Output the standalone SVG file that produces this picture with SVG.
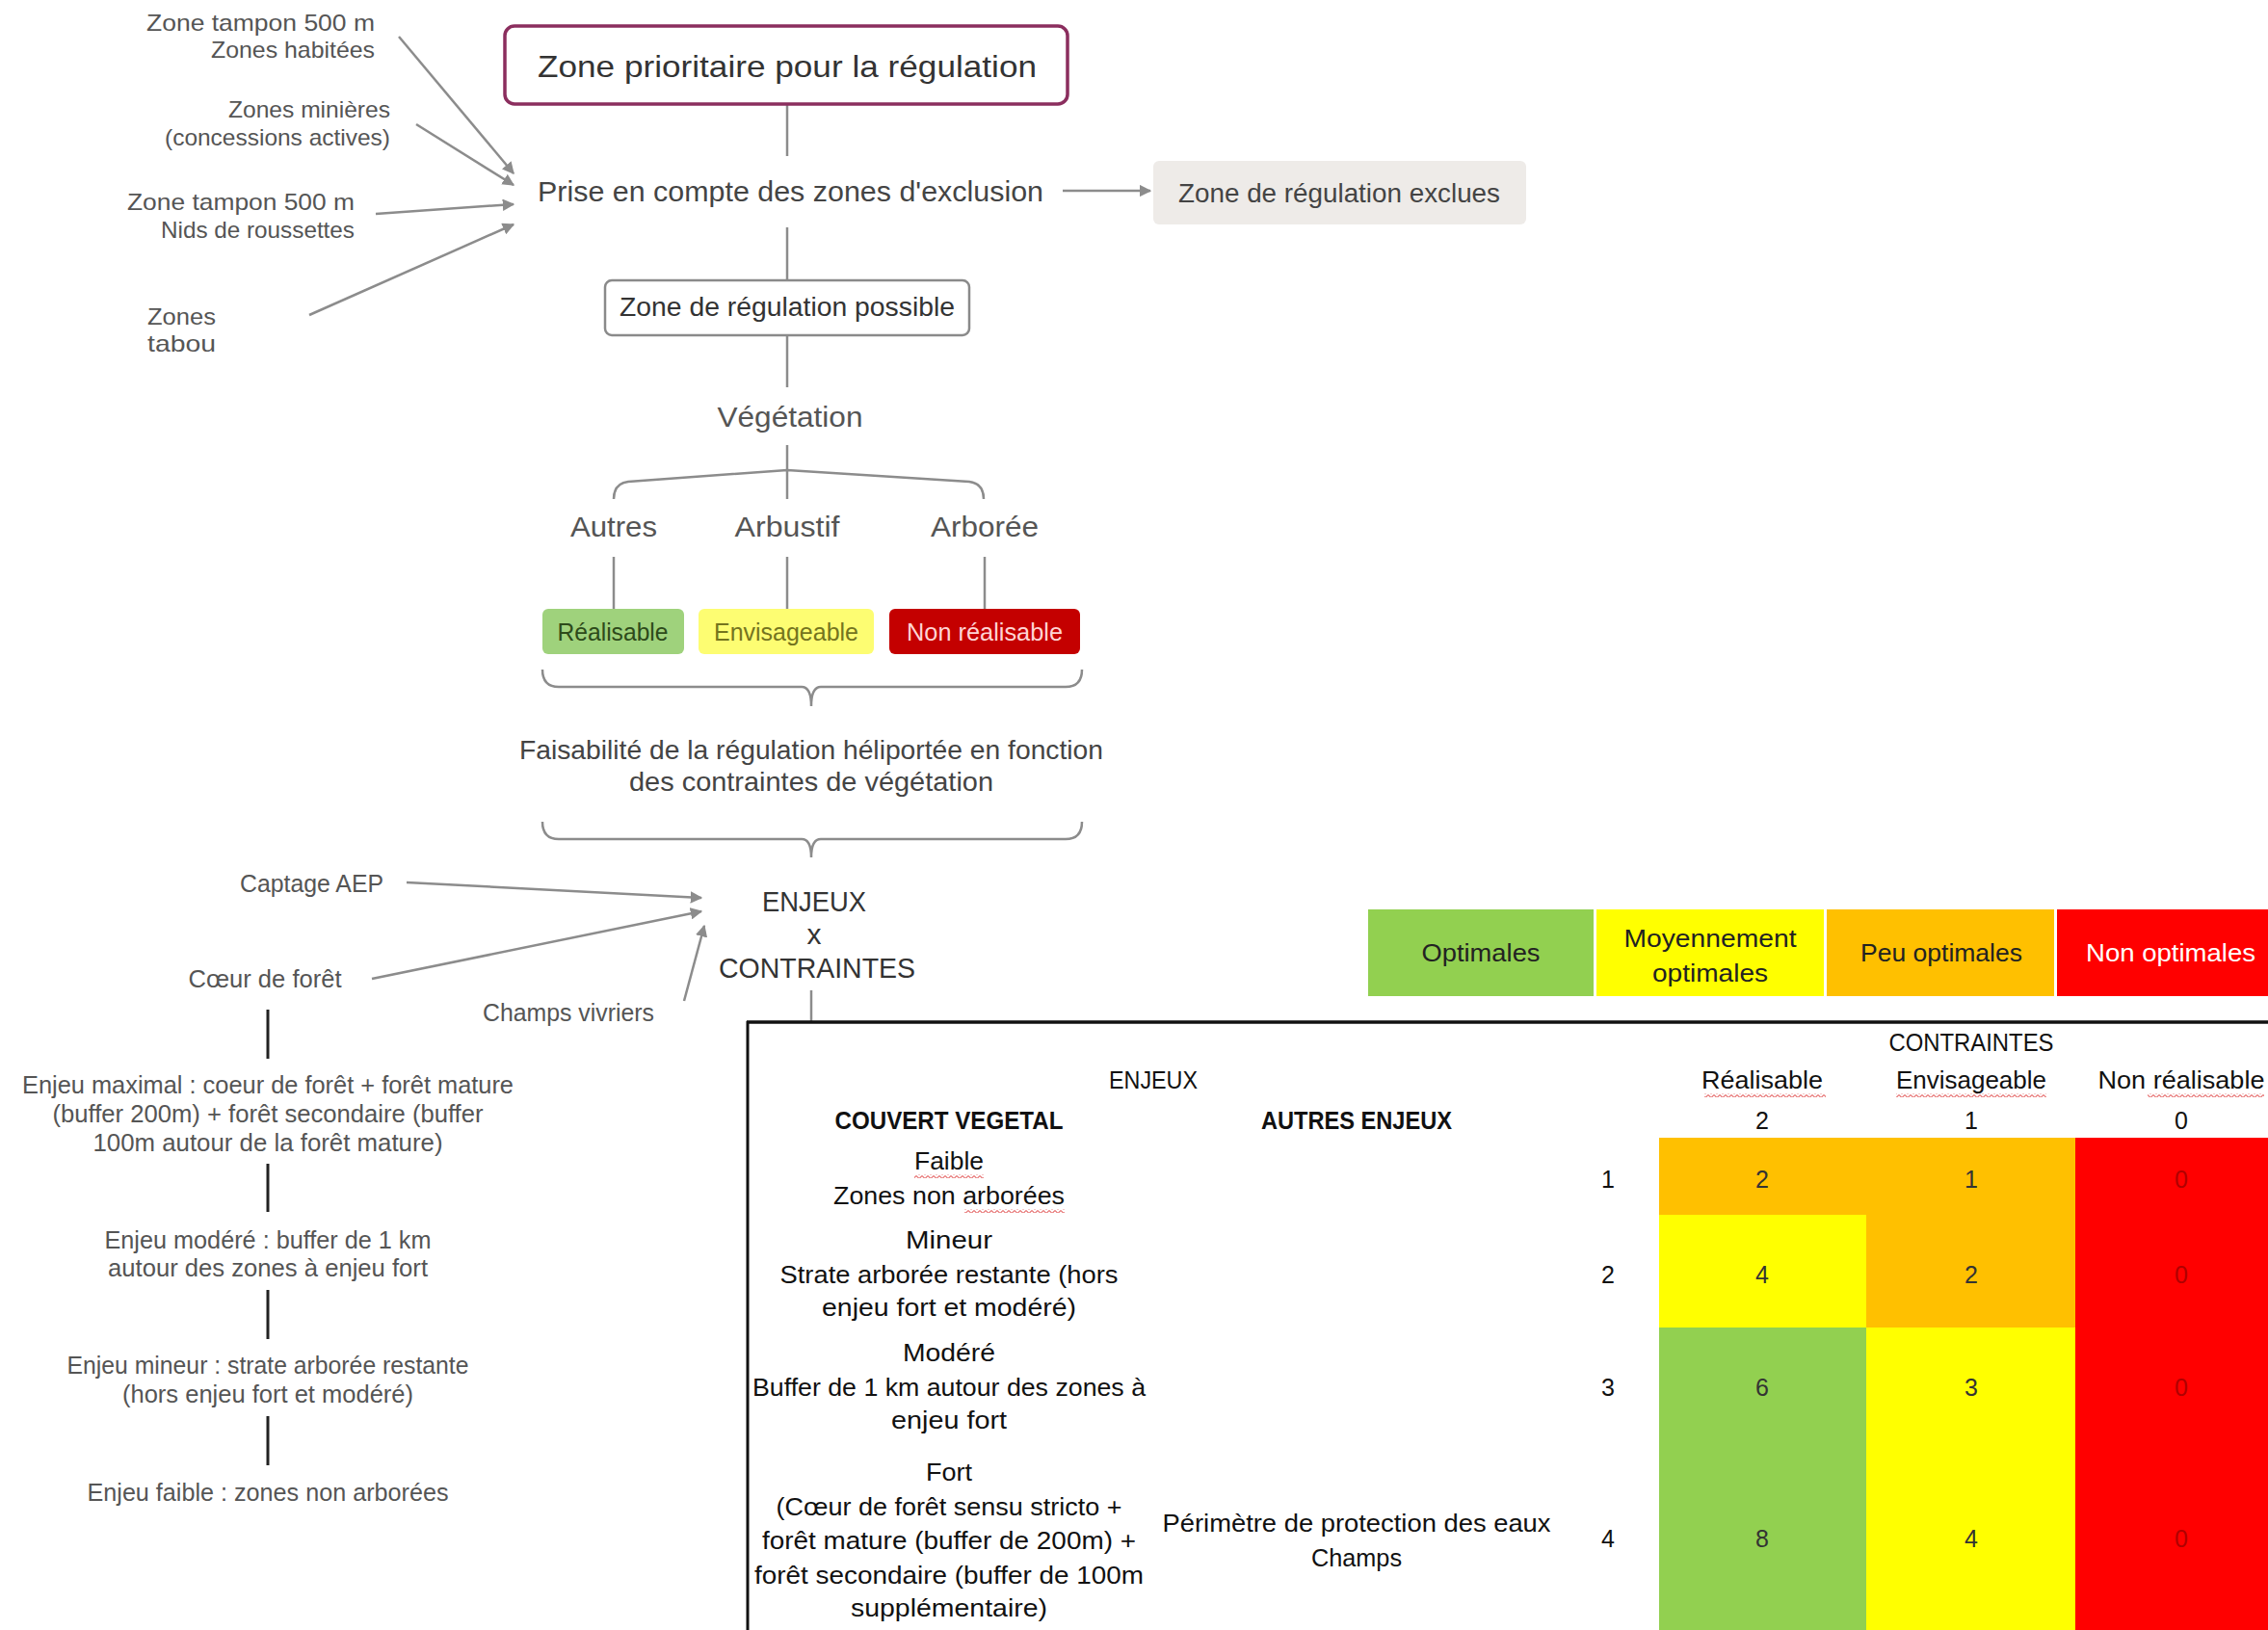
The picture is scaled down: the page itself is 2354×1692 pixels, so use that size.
<svg xmlns="http://www.w3.org/2000/svg" width="2354" height="1692" viewBox="0 0 2354 1692">
<style>
.fc{font-family:"Liberation Sans",Arial,sans-serif;fill:#555}
.s24{font-size:24px}.s25{font-size:25px}.s26{font-size:26px}.s28{font-size:28px}.s30{font-size:30px}.s32{font-size:32px}
.tb{font-family:"Liberation Sans",Arial,sans-serif;font-size:25px;fill:#111}
.b{font-weight:bold}
.mid{text-anchor:middle}.end{text-anchor:end}
.con{stroke:#8c8c8c;stroke-width:2.5;fill:none}
.chain{stroke:#222;stroke-width:3}
</style>
<defs>
<marker id="ar" viewBox="0 0 10 10" refX="9" refY="5" markerWidth="5" markerHeight="5" orient="auto" markerUnits="strokeWidth">
<path d="M0,0 L10,5 L0,10 z" fill="#8c8c8c"/>
</marker>
<pattern id="wavy" width="6" height="4" patternUnits="userSpaceOnUse">
<path d="M0,3.5 L3,0.5 L6,3.5" stroke="#d82020" stroke-width="1" fill="none"/>
</pattern>
</defs>
<rect width="2354" height="1692" fill="#fff"/>

<g id="connectors">
<line class="con" x1="414" y1="38" x2="533" y2="180" marker-end="url(#ar)"/>
<line class="con" x1="432" y1="129" x2="533" y2="192" marker-end="url(#ar)"/>
<line class="con" x1="390" y1="222" x2="533" y2="212" marker-end="url(#ar)"/>
<line class="con" x1="321" y1="327" x2="533" y2="233" marker-end="url(#ar)"/>
<line class="con" x1="817" y1="108" x2="817" y2="162"/>
<line class="con" x1="817" y1="236" x2="817" y2="291"/>
<line class="con" x1="1103" y1="198" x2="1194" y2="198" marker-end="url(#ar)"/>
<line class="con" x1="817" y1="348" x2="817" y2="402"/>
<line class="con" x1="817" y1="462" x2="817" y2="518"/>
<path class="con" d="M637 518 Q637 502 652 500 L817 488 L1006 500 Q1021 502 1021 518"/>
<line class="con" x1="637" y1="578" x2="637" y2="632"/>
<line class="con" x1="817" y1="578" x2="817" y2="632"/>
<line class="con" x1="1022" y1="578" x2="1022" y2="632"/>
<path class="con" d="M563 695 Q563 713 580 713 L832 713 Q842 713 842 733 Q842 713 852 713 L1106 713 Q1123 713 1123 695"/>
<path class="con" d="M563 853 Q563 871 580 871 L832 871 Q842 871 842 890 Q842 871 852 871 L1106 871 Q1123 871 1123 853"/>
<line class="con" x1="422" y1="916" x2="728" y2="932" marker-end="url(#ar)"/>
<line class="con" x1="386" y1="1016" x2="728" y2="946" marker-end="url(#ar)"/>
<line class="con" x1="710" y1="1039" x2="731" y2="961" marker-end="url(#ar)"/>
<line class="con" x1="842" y1="1028" x2="842" y2="1060"/>
<line class="chain" x1="278" y1="1048" x2="278" y2="1099"/>
<line class="chain" x1="278" y1="1208" x2="278" y2="1258"/>
<line class="chain" x1="278" y1="1339" x2="278" y2="1390"/>
<line class="chain" x1="278" y1="1470" x2="278" y2="1521"/>
</g>

<g id="exclusion-labels">
<text class="fc s24 end" x="389" y="32" textLength="237" lengthAdjust="spacingAndGlyphs">Zone tampon 500 m</text>
<text class="fc s24 end" x="389" y="60" textLength="170" lengthAdjust="spacingAndGlyphs">Zones habitées</text>
<text class="fc s24 end" x="405" y="122" textLength="168" lengthAdjust="spacingAndGlyphs">Zones minières</text>
<text class="fc s24 end" x="405" y="151" textLength="234" lengthAdjust="spacingAndGlyphs">(concessions actives)</text>
<text class="fc s24 end" x="368" y="218" textLength="236" lengthAdjust="spacingAndGlyphs">Zone tampon 500 m</text>
<text class="fc s24 end" x="368" y="247" textLength="201" lengthAdjust="spacingAndGlyphs">Nids de roussettes</text>
<text class="fc s24" x="153" y="337" textLength="71" lengthAdjust="spacingAndGlyphs">Zones</text>
<text class="fc s24" x="153" y="365" textLength="71" lengthAdjust="spacingAndGlyphs">tabou</text>
</g>

<g id="zone-prioritaire">
<rect x="524" y="27" width="584" height="81" rx="10" fill="#fff" stroke="#8b2e5e" stroke-width="3.5"/>
<text class="fc s32 mid" x="817" y="80" textLength="518" lengthAdjust="spacingAndGlyphs" style="fill:#333">Zone prioritaire pour la régulation</text>
</g>

<g id="prise-en-compte">
<text class="fc s30" x="558" y="209" textLength="525" lengthAdjust="spacingAndGlyphs" style="fill:#444">Prise en compte des zones d'exclusion</text>
</g>

<g id="zone-exclues">
<rect x="1197" y="167" width="387" height="66" rx="6" fill="#eeebe8"/>
<text class="fc s28 mid" x="1390" y="210" textLength="334" lengthAdjust="spacingAndGlyphs" style="fill:#444">Zone de régulation exclues</text>
</g>

<g id="zone-possible">
<rect x="628" y="291" width="378" height="57" rx="7" fill="#fff" stroke="#8a8a8a" stroke-width="2.5"/>
<text class="fc s28 mid" x="817" y="328" textLength="348" lengthAdjust="spacingAndGlyphs" style="fill:#333">Zone de régulation possible</text>
</g>

<g id="vegetation">
<text class="fc s30 mid" x="820" y="443" textLength="151" lengthAdjust="spacingAndGlyphs">Végétation</text>
</g>
<g id="autres"><text class="fc s30 mid" x="637" y="557" textLength="90" lengthAdjust="spacingAndGlyphs">Autres</text></g>
<g id="arbustif"><text class="fc s30 mid" x="817" y="557" textLength="109" lengthAdjust="spacingAndGlyphs">Arbustif</text></g>
<g id="arboree"><text class="fc s30 mid" x="1022" y="557" textLength="112" lengthAdjust="spacingAndGlyphs">Arborée</text></g>

<g id="realisable">
<rect x="563" y="632" width="147" height="47" rx="6" fill="#9fd27c"/>
<text class="fc s26 mid" x="636" y="665" textLength="115" lengthAdjust="spacingAndGlyphs" style="fill:#2d4a1a">Réalisable</text>
</g>
<g id="envisageable">
<rect x="725" y="632" width="182" height="47" rx="6" fill="#fdfd72"/>
<text class="fc s26 mid" x="816" y="665" textLength="150" lengthAdjust="spacingAndGlyphs" style="fill:#74741e">Envisageable</text>
</g>
<g id="non-realisable">
<rect x="923" y="632" width="198" height="47" rx="6" fill="#c40000"/>
<text class="fc s26 mid" x="1022" y="665" textLength="162" lengthAdjust="spacingAndGlyphs" style="fill:#ffd4d4">Non réalisable</text>
</g>

<g id="faisabilite">
<text class="fc s28 mid" x="842" y="788" textLength="606" lengthAdjust="spacingAndGlyphs" style="fill:#444">Faisabilité de la régulation héliportée en fonction</text>
<text class="fc s28 mid" x="842" y="821" textLength="378" lengthAdjust="spacingAndGlyphs" style="fill:#444">des contraintes de végétation</text>
</g>

<g id="enjeux-contraintes">
<text class="fc s30 mid" x="845" y="946" textLength="108" lengthAdjust="spacingAndGlyphs" style="fill:#333">ENJEUX</text>
<text class="fc s30 mid" x="845" y="980" style="fill:#333">x</text>
<text class="fc s30 mid" x="848" y="1015" textLength="204" lengthAdjust="spacingAndGlyphs" style="fill:#333">CONTRAINTES</text>
</g>

<g id="enjeux-labels">
<text class="fc s25 end" x="398" y="926" textLength="149" lengthAdjust="spacingAndGlyphs">Captage AEP</text>
<text class="fc s25 mid" x="275" y="1025" textLength="159" lengthAdjust="spacingAndGlyphs">Cœur de forêt</text>
<text class="fc s25 mid" x="590" y="1060" textLength="178" lengthAdjust="spacingAndGlyphs">Champs vivriers</text>
</g>

<g id="enjeu-chain">
<text class="fc s25 mid" x="278" y="1135" textLength="510" lengthAdjust="spacingAndGlyphs">Enjeu maximal : coeur de forêt + forêt mature</text>
<text class="fc s25 mid" x="278" y="1165" textLength="447" lengthAdjust="spacingAndGlyphs">(buffer 200m) + forêt secondaire (buffer</text>
<text class="fc s25 mid" x="278" y="1195" textLength="363" lengthAdjust="spacingAndGlyphs">100m autour de la forêt mature)</text>
<text class="fc s25 mid" x="278" y="1296" textLength="339" lengthAdjust="spacingAndGlyphs">Enjeu modéré : buffer de 1 km</text>
<text class="fc s25 mid" x="278" y="1325" textLength="332" lengthAdjust="spacingAndGlyphs">autour des zones à enjeu fort</text>
<text class="fc s25 mid" x="278" y="1426" textLength="417" lengthAdjust="spacingAndGlyphs">Enjeu mineur : strate arborée restante</text>
<text class="fc s25 mid" x="278" y="1456" textLength="302" lengthAdjust="spacingAndGlyphs">(hors enjeu fort et modéré)</text>
<text class="fc s25 mid" x="278" y="1558" textLength="375" lengthAdjust="spacingAndGlyphs">Enjeu faible : zones non arborées</text>
</g>

<g id="legend">
<rect x="1420" y="944" width="234" height="90" fill="#92d050"/>
<rect x="1657" y="944" width="236" height="90" fill="#ffff00"/>
<rect x="1896" y="944" width="236" height="90" fill="#ffc000"/>
<rect x="2135" y="944" width="219" height="90" fill="#ff0000"/>
<text class="tb mid" x="1537" y="998" textLength="123" lengthAdjust="spacingAndGlyphs" style="fill:#222">Optimales</text>
<text class="tb mid" x="1775" y="983" textLength="179" lengthAdjust="spacingAndGlyphs" style="fill:#222">Moyennement</text>
<text class="tb mid" x="1775" y="1019" textLength="120" lengthAdjust="spacingAndGlyphs" style="fill:#222">optimales</text>
<text class="tb mid" x="2015" y="998" textLength="168" lengthAdjust="spacingAndGlyphs" style="fill:#222">Peu optimales</text>
<text class="tb mid" x="2253" y="998" textLength="176" lengthAdjust="spacingAndGlyphs" style="fill:#fff">Non optimales</text>
</g>

<g id="table">
<rect x="1722" y="1181" width="432" height="80" fill="#ffc000"/>
<rect x="2154" y="1181" width="200" height="511" fill="#ff0000"/>
<rect x="1722" y="1261" width="215" height="117" fill="#ffff00"/>
<rect x="1937" y="1261" width="217" height="117" fill="#ffc000"/>
<rect x="1722" y="1378" width="215" height="314" fill="#92d050"/>
<rect x="1937" y="1378" width="217" height="314" fill="#ffff00"/>
<line x1="775" y1="1061" x2="2354" y2="1061" stroke="#111" stroke-width="3.5"/>
<line x1="776" y1="1060" x2="776" y2="1692" stroke="#111" stroke-width="3"/>

<text class="tb mid" x="2046" y="1091" textLength="171" lengthAdjust="spacingAndGlyphs">CONTRAINTES</text>
<text class="tb mid" x="1197" y="1130" textLength="92" lengthAdjust="spacingAndGlyphs">ENJEUX</text>
<text class="tb mid" x="1829" y="1130" textLength="126" lengthAdjust="spacingAndGlyphs">Réalisable</text>
<text class="tb mid" x="2046" y="1130" textLength="156" lengthAdjust="spacingAndGlyphs">Envisageable</text>
<text class="tb mid" x="2264" y="1130" textLength="173" lengthAdjust="spacingAndGlyphs">Non réalisable</text>
<rect x="1769" y="1135" width="126" height="4" fill="url(#wavy)"/>
<rect x="1968" y="1135" width="156" height="4" fill="url(#wavy)"/>
<rect x="2229" y="1135" width="121" height="4" fill="url(#wavy)"/>

<text class="tb b mid" x="985" y="1172" textLength="237" lengthAdjust="spacingAndGlyphs">COUVERT VEGETAL</text>
<text class="tb b mid" x="1408" y="1172" textLength="198" lengthAdjust="spacingAndGlyphs">AUTRES ENJEUX</text>
<text class="tb mid" x="1829" y="1172">2</text>
<text class="tb mid" x="2046" y="1172">1</text>
<text class="tb mid" x="2264" y="1172">0</text>

<text class="tb mid" x="985" y="1214" textLength="72" lengthAdjust="spacingAndGlyphs">Faible</text>
<rect x="949" y="1219" width="72" height="4" fill="url(#wavy)"/>
<text class="tb mid" x="985" y="1250" textLength="240" lengthAdjust="spacingAndGlyphs">Zones non arborées</text>
<rect x="1001" y="1255" width="104" height="4" fill="url(#wavy)"/>
<text class="tb mid" x="985" y="1296" textLength="90" lengthAdjust="spacingAndGlyphs">Mineur</text>
<text class="tb mid" x="985" y="1332" textLength="351" lengthAdjust="spacingAndGlyphs">Strate arborée restante (hors</text>
<text class="tb mid" x="985" y="1366" textLength="264" lengthAdjust="spacingAndGlyphs">enjeu fort et modéré)</text>
<text class="tb mid" x="985" y="1413" textLength="96" lengthAdjust="spacingAndGlyphs">Modéré</text>
<text class="tb mid" x="985" y="1449" textLength="408" lengthAdjust="spacingAndGlyphs">Buffer de 1 km autour des zones à</text>
<text class="tb mid" x="985" y="1483" textLength="120" lengthAdjust="spacingAndGlyphs">enjeu fort</text>
<text class="tb mid" x="985" y="1537" textLength="48" lengthAdjust="spacingAndGlyphs">Fort</text>
<text class="tb mid" x="985" y="1573" textLength="359" lengthAdjust="spacingAndGlyphs">(Cœur de forêt sensu stricto +</text>
<text class="tb mid" x="985" y="1608" textLength="388" lengthAdjust="spacingAndGlyphs">forêt mature (buffer de 200m) +</text>
<text class="tb mid" x="985" y="1644" textLength="404" lengthAdjust="spacingAndGlyphs">forêt secondaire (buffer de 100m</text>
<text class="tb mid" x="985" y="1678" textLength="204" lengthAdjust="spacingAndGlyphs">supplémentaire)</text>
<text class="tb mid" x="1408" y="1590" textLength="403" lengthAdjust="spacingAndGlyphs">Périmètre de protection des eaux</text>
<text class="tb mid" x="1408" y="1626" textLength="94" lengthAdjust="spacingAndGlyphs">Champs</text>

<text class="tb mid" x="1669" y="1233">1</text>
<text class="tb mid" x="1669" y="1332">2</text>
<text class="tb mid" x="1669" y="1449">3</text>
<text class="tb mid" x="1669" y="1606">4</text>

<text class="tb mid" x="1829" y="1233" style="fill:#333">2</text>
<text class="tb mid" x="2046" y="1233" style="fill:#333">1</text>
<text class="tb mid" x="2264" y="1233" style="fill:#b00000">0</text>
<text class="tb mid" x="1829" y="1332" style="fill:#333">4</text>
<text class="tb mid" x="2046" y="1332" style="fill:#333">2</text>
<text class="tb mid" x="2264" y="1332" style="fill:#b00000">0</text>
<text class="tb mid" x="1829" y="1449" style="fill:#333">6</text>
<text class="tb mid" x="2046" y="1449" style="fill:#333">3</text>
<text class="tb mid" x="2264" y="1449" style="fill:#b00000">0</text>
<text class="tb mid" x="1829" y="1606" style="fill:#333">8</text>
<text class="tb mid" x="2046" y="1606" style="fill:#333">4</text>
<text class="tb mid" x="2264" y="1606" style="fill:#b00000">0</text>
</g>
</svg>
